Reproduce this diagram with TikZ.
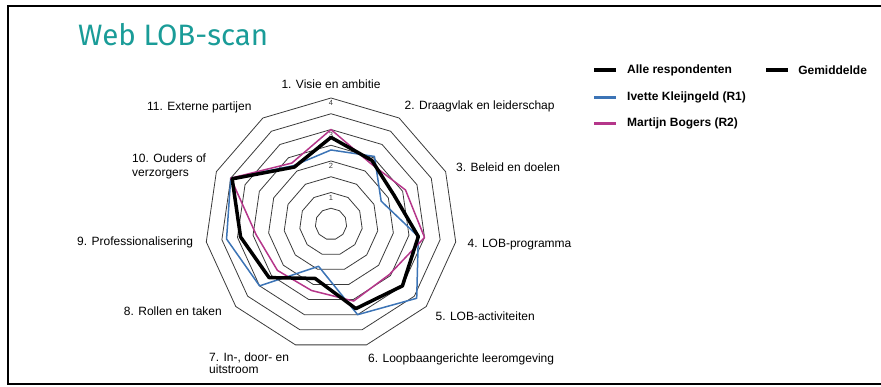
\documentclass[tikz,border=0pt]{standalone}
\usepackage{fontspec}
\setmainfont{Liberation Sans}
\newfontfamily\titlefont{Fira Sans}
\usetikzlibrary{positioning}
\definecolor{lobteal}{HTML}{1A9C98}
\definecolor{rblue}{HTML}{3C74B6}
\definecolor{rpink}{HTML}{B5368A}
\definecolor{ringgray}{HTML}{3A3A3A}

\begin{document}
\begin{tikzpicture}[x=1pt,y=-1pt,font=\fontsize{12}{12}\selectfont,
  ring/.style={ringgray,line width=0.8pt},
  avgline/.style={black,line width=3.5pt,line join=round},
  r1line/.style={rblue,line width=1.5pt,line join=round},
  r2line/.style={rpink,line width=1.5pt,line join=round},
  tick/.style={inner sep=0pt,text=ringgray,font=\fontsize{7.5}{7.5}\selectfont},
  axlabel/.style={inner sep=0pt,anchor=west,align=left},
  legtext/.style={inner sep=0pt,anchor=west,font=\fontsize{12}{12}\selectfont\bfseries}]

\useasboundingbox (0,0) rectangle (881,387);

%%%%%%%%%%%%%%%%%%%%%% FRAME AND TITLE

\draw[line width=2pt] (881,6) -- (8,6) -- (8,384) -- (881,384);
\node (title) [anchor=base west,inner sep=0pt,text=lobteal,font=\titlefont\fontsize{29.5}{29.5}\selectfont] at (78,46) {Web LOB-scan};

%%%%%%%%%%%%%%%%%%%%%% RADAR

\begin{scope}[shift={(331,224)},x=31.5pt,y=31.5pt]
\foreach \r in {0.5,1,...,4}
  \draw[ring] (90:\r) \foreach \k in {1,...,10} {-- (90-\k*360/11:\r)} -- cycle;

\foreach \v in {1,...,4}
  \node (tick\v) [tick] at (0,\v-0.17) {\v};

\draw[r1line] (90:2.35) -- (57.27:2.55) -- (24.55:1.75) -- (-8.18:2.8) -- (-40.91:3.6) -- (-73.64:3.0) -- (-106.36:1.4) -- (-139.09:3.0) -- (-171.82:3.35) -- (155.45:3.5) -- (122.73:2.2) -- cycle;
\draw[r2line] (90:3.0) -- (57.27:2.3) -- (24.55:2.6) -- (-8.18:3.0) -- (-40.91:2.45) -- (-73.64:2.55) -- (-106.36:2.2) -- (-139.09:2.25) -- (-171.82:2.4) -- (155.45:3.5) -- (122.73:2.3) -- cycle;
\draw[avgline] (90:2.75) -- (57.27:2.4) -- (24.55:2.2) -- (-8.18:2.8) -- (-40.91:3.0) -- (-73.64:2.8) -- (-106.36:1.8) -- (-139.09:2.6) -- (-171.82:2.9) -- (155.45:3.45) -- (122.73:2.15) -- cycle;
\end{scope}

\node (ax1) [inner sep=0pt] at (331,84) {1. Visie en ambitie};
\node (ax2) [axlabel] at (404.5,106.7) {2. Draagvlak en leiderschap};
\node (ax3) [axlabel] at (456,167.7) {3. Beleid en doelen};
\node (ax4) [axlabel] at (467.4,245) {4. LOB-programma};
\node (ax5) [axlabel] at (435.4,316.7) {5. LOB-activiteiten};
\node (ax6) [axlabel] at (368,359.3) {6. Loopbaangerichte leeromgeving};
\node (ax7) [axlabel] at (209,363) {7. In-, door- en\\uitstroom};
\node (ax8) [inner sep=0pt,anchor=east] at (222,311) {8. Rollen en taken};
\node (ax9) [axlabel] at (77,242.3) {9. Professionalisering};
\node (ax10) [axlabel,font=\fontsize{12}{14.4}\selectfont] at (132,166.5) {10. Ouders of\\verzorgers};
\node (ax11) [axlabel] at (147,107.7) {11. Externe partijen};

%%%%%%%%%%%%%%%%%%%%%% LEGEND

\node (legall) [legtext] at (627,70.5) {Alle respondenten};
\node (legavg) [legtext,right=66pt of legall] {Gemiddelde};
\node (legr1) [legtext] at (627,97.7) {Ivette Kleijngeld (R1)};
\node (legr2) [legtext] at (627,123.7) {Martijn Bogers (R2)};

\draw[black,line width=4pt] ([xshift=-33pt]legall.west) -- ([xshift=-11pt]legall.west);
\draw[black,line width=4pt] ([xshift=-32pt]legavg.west) -- ([xshift=-10pt]legavg.west);
\draw[rblue,line width=3pt] ([xshift=-33pt]legr1.west) -- ([xshift=-11pt]legr1.west);
\draw[rpink,line width=3pt] ([xshift=-33pt]legr2.west) -- ([xshift=-11pt]legr2.west);

\end{tikzpicture}
\end{document}
